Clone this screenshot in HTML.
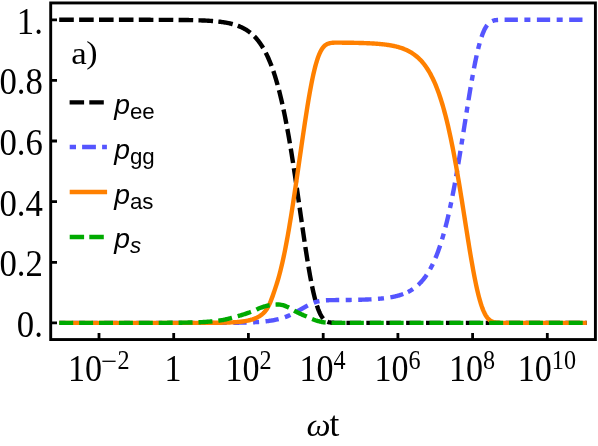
<!DOCTYPE html>
<html>
<head>
<meta charset="utf-8">
<title>Populations vs ωt</title>
<style>
  html, body { margin: 0; padding: 0; background: #ffffff; }
  body { width: 598px; height: 446px; overflow: hidden; }
  svg { display: block; will-change: transform; }
  .txt { filter: grayscale(1); }
  .serif { font-family: "Liberation Serif", serif; }
  .sans  { font-family: "Liberation Sans", sans-serif; }
</style>
</head>
<body>
<svg width="598" height="446" viewBox="0 0 598 446">
  <rect x="0" y="0" width="598" height="446" fill="#ffffff"/>

  <!-- curves -->
  <g fill="none" stroke-width="4.4" stroke-linejoin="round">
    <polyline id="c-ee" stroke="#000000" stroke-dasharray="14.6 5.3" points="59.20,19.80 59.86,19.80 60.52,19.80 61.18,19.80 61.84,19.80 62.50,19.80 63.16,19.80 63.82,19.80 64.48,19.80 65.14,19.80 65.80,19.80 66.46,19.80 67.12,19.80 67.78,19.80 68.44,19.80 69.10,19.80 69.76,19.80 70.42,19.80 71.08,19.80 71.74,19.80 72.40,19.80 73.06,19.80 73.72,19.80 74.38,19.80 75.04,19.80 75.71,19.80 76.37,19.80 77.03,19.80 77.69,19.80 78.35,19.80 79.01,19.80 79.67,19.80 80.33,19.80 80.99,19.80 81.65,19.80 82.31,19.80 82.97,19.80 83.63,19.80 84.29,19.80 84.95,19.80 85.61,19.80 86.27,19.80 86.93,19.80 87.59,19.80 88.25,19.80 88.91,19.80 89.57,19.80 90.23,19.80 90.89,19.80 91.55,19.80 92.21,19.80 92.87,19.80 93.53,19.80 94.19,19.80 94.85,19.80 95.51,19.80 96.17,19.80 96.83,19.80 97.49,19.80 98.15,19.80 98.81,19.80 99.47,19.80 100.13,19.80 100.79,19.80 101.45,19.80 102.11,19.80 102.77,19.80 103.43,19.80 104.09,19.80 104.75,19.80 105.41,19.80 106.07,19.80 106.73,19.80 107.39,19.80 108.05,19.80 108.72,19.80 109.38,19.80 110.04,19.80 110.70,19.80 111.36,19.80 112.02,19.80 112.68,19.80 113.34,19.80 114.00,19.80 114.66,19.80 115.32,19.80 115.98,19.80 116.64,19.80 117.30,19.80 117.96,19.80 118.62,19.80 119.28,19.80 119.94,19.80 120.60,19.80 121.26,19.80 121.92,19.80 122.58,19.80 123.24,19.80 123.90,19.80 124.56,19.80 125.22,19.81 125.88,19.81 126.54,19.81 127.20,19.81 127.86,19.81 128.52,19.81 129.18,19.81 129.84,19.81 130.50,19.81 131.16,19.81 131.82,19.81 132.48,19.81 133.14,19.81 133.80,19.81 134.46,19.81 135.12,19.81 135.78,19.81 136.44,19.81 137.10,19.81 137.76,19.81 138.42,19.81 139.08,19.81 139.74,19.81 140.40,19.81 141.06,19.81 141.73,19.81 142.39,19.82 143.05,19.82 143.71,19.82 144.37,19.82 145.03,19.82 145.69,19.82 146.35,19.82 147.01,19.82 147.67,19.82 148.33,19.82 148.99,19.82 149.65,19.82 150.31,19.82 150.97,19.83 151.63,19.83 152.29,19.83 152.95,19.83 153.61,19.83 154.27,19.83 154.93,19.83 155.59,19.83 156.25,19.84 156.91,19.84 157.57,19.84 158.23,19.84 158.89,19.84 159.55,19.84 160.21,19.85 160.87,19.85 161.53,19.85 162.19,19.85 162.85,19.85 163.51,19.86 164.17,19.86 164.83,19.86 165.49,19.86 166.15,19.87 166.81,19.87 167.47,19.87 168.13,19.88 168.79,19.88 169.45,19.88 170.11,19.89 170.77,19.89 171.43,19.89 172.09,19.90 172.75,19.90 173.41,19.91 174.07,19.91 174.74,19.91 175.40,19.92 176.06,19.92 176.72,19.93 177.38,19.94 178.04,19.94 178.70,19.95 179.36,19.95 180.02,19.96 180.68,19.97 181.34,19.97 182.00,19.98 182.66,19.99 183.32,20.00 183.98,20.00 184.64,20.01 185.30,20.02 185.96,20.03 186.62,20.04 187.28,20.05 187.94,20.06 188.60,20.07 189.26,20.09 189.92,20.10 190.58,20.11 191.24,20.12 191.90,20.14 192.56,20.15 193.22,20.17 193.88,20.18 194.54,20.20 195.20,20.21 195.86,20.23 196.52,20.25 197.18,20.27 197.84,20.29 198.50,20.31 199.16,20.33 199.82,20.35 200.48,20.38 201.14,20.40 201.80,20.43 202.46,20.45 203.12,20.48 203.78,20.51 204.44,20.54 205.10,20.57 205.76,20.60 206.42,20.64 207.08,20.67 207.75,20.71 208.41,20.75 209.07,20.79 209.73,20.83 210.39,20.87 211.05,20.92 211.71,20.97 212.37,21.02 213.03,21.07 213.69,21.12 214.35,21.18 215.01,21.24 215.67,21.30 216.33,21.36 216.99,21.43 217.65,21.49 218.31,21.57 218.97,21.64 219.63,21.72 220.29,21.80 220.95,21.88 221.61,21.97 222.27,22.06 222.93,22.16 223.59,22.26 224.25,22.36 224.91,22.47 225.57,22.58 226.23,22.70 226.89,22.82 227.55,22.95 228.21,23.08 228.87,23.22 229.53,23.36 230.19,23.51 230.85,23.67 231.51,23.83 232.17,24.00 232.83,24.18 233.49,24.36 234.15,24.55 234.81,24.75 235.47,24.96 236.13,25.18 236.79,25.40 237.45,25.64 238.11,25.88 238.77,26.14 239.43,26.40 240.09,26.68 240.76,26.97 241.42,27.27 242.08,27.58 242.74,27.90 243.40,28.24 244.06,28.59 244.72,28.96 245.38,29.34 246.04,29.74 246.70,30.15 247.36,30.58 248.02,31.03 248.68,31.50 249.34,31.98 250.00,32.49 250.66,33.01 251.32,33.56 251.98,34.13 252.64,34.72 253.30,35.33 253.96,35.97 254.62,36.64 255.28,37.33 255.94,38.05 256.60,38.80 257.26,39.58 257.92,40.38 258.58,41.22 259.24,42.10 259.90,43.00 260.56,43.95 261.22,44.92 261.88,45.94 262.54,47.00 263.20,48.09 263.86,49.23 264.52,50.41 265.18,51.64 265.84,52.91 266.50,54.23 267.16,55.60 267.82,57.02 268.48,58.49 269.14,60.01 269.80,61.59 270.46,63.23 271.12,64.92 271.78,66.67 272.44,68.49 273.10,70.37 273.77,72.31 274.43,74.33 275.09,76.40 275.75,78.55 276.41,80.77 277.07,83.06 277.73,85.43 278.39,87.87 279.05,90.39 279.71,92.98 280.37,95.66 281.03,98.41 281.69,101.25 282.35,104.16 283.01,107.16 283.67,110.25 284.33,113.41 284.99,116.67 285.65,120.00 286.31,123.42 286.97,126.92 287.63,130.51 288.29,134.17 288.95,137.92 289.61,141.75 290.27,145.65 290.93,149.64 291.59,153.69 292.25,157.82 292.91,162.01 293.57,166.27 294.23,170.58 294.89,174.96 295.55,179.38 296.21,183.85 296.87,188.37 297.53,192.91 298.19,197.49 298.85,202.09 299.51,206.70 300.17,211.33 300.83,215.95 301.49,220.56 302.15,225.16 302.81,229.74 303.47,234.28 304.13,238.77 304.79,243.22 305.45,247.60 306.11,251.91 306.78,256.14 307.44,260.28 308.10,264.33 308.76,268.27 309.42,272.09 310.08,275.79 310.74,279.36 311.40,282.79 312.06,286.09 312.72,289.23 313.38,292.22 314.04,295.06 314.70,297.73 315.36,300.25 316.02,302.61 316.68,304.80 317.34,306.84 318.00,308.72 318.66,310.44 319.32,312.01 319.98,313.44 320.64,314.74 321.30,315.89 321.96,316.93 322.62,317.84 323.28,318.65 323.94,319.35 324.60,319.96 325.26,320.48 325.92,320.93 326.58,321.31 327.24,321.63 327.90,321.89 328.56,322.11 329.22,322.28 329.88,322.43 330.54,322.54 331.20,322.63 331.86,322.70 332.52,322.75 333.18,322.79 333.84,322.82 334.50,322.85 335.16,322.86 335.82,322.87 336.48,322.88 337.14,322.89 337.80,322.89 338.46,322.90 339.12,322.90 339.79,322.90 340.45,322.90 341.11,322.90 341.77,322.90 342.43,322.90 343.09,322.90 343.75,322.90 344.41,322.90"/>
    <polyline id="c-ee2" stroke="#000000" stroke-dasharray="14.6 5.3" stroke-dashoffset="17.87" points="344.41,322.90 345.07,322.90 345.73,322.90 346.39,322.90 347.05,322.90 347.71,322.90 348.37,322.90 349.03,322.90 349.69,322.90 350.35,322.90 351.01,322.90 351.67,322.90 352.33,322.90 352.99,322.90 353.65,322.90 354.31,322.90 354.97,322.90 355.63,322.90 356.29,322.90 356.95,322.90 357.61,322.90 358.27,322.90 358.93,322.90 359.59,322.90 360.25,322.90 360.91,322.90 361.57,322.90 362.23,322.90 362.89,322.90 363.55,322.90 364.21,322.90 364.87,322.90 365.53,322.90 366.19,322.90 366.85,322.90 367.51,322.90 368.17,322.90 368.83,322.90 369.49,322.90 370.15,322.90 370.81,322.90 371.47,322.90 372.13,322.90 372.80,322.90 373.46,322.90 374.12,322.90 374.78,322.90 375.44,322.90 376.10,322.90 376.76,322.90 377.42,322.90 378.08,322.90 378.74,322.90 379.40,322.90 380.06,322.90 380.72,322.90 381.38,322.90 382.04,322.90 382.70,322.90 383.36,322.90 384.02,322.90 384.68,322.90 385.34,322.90 386.00,322.90 386.66,322.90 387.32,322.90 387.98,322.90 388.64,322.90 389.30,322.90 389.96,322.90 390.62,322.90 391.28,322.90 391.94,322.90 392.60,322.90 393.26,322.90 393.92,322.90 394.58,322.90 395.24,322.90 395.90,322.90 396.56,322.90 397.22,322.90 397.88,322.90 398.54,322.90 399.20,322.90 399.86,322.90 400.52,322.90 401.18,322.90 401.84,322.90 402.50,322.90 403.16,322.90 403.82,322.90 404.48,322.90 405.14,322.90 405.81,322.90 406.47,322.90 407.13,322.90 407.79,322.90 408.45,322.90 409.11,322.90 409.77,322.90 410.43,322.90 411.09,322.90 411.75,322.90 412.41,322.90 413.07,322.90 413.73,322.90 414.39,322.90 415.05,322.90 415.71,322.90 416.37,322.90 417.03,322.90 417.69,322.90 418.35,322.90 419.01,322.90 419.67,322.90 420.33,322.90 420.99,322.90 421.65,322.90 422.31,322.90 422.97,322.90 423.63,322.90 424.29,322.90 424.95,322.90 425.61,322.90 426.27,322.90 426.93,322.90 427.59,322.90 428.25,322.90 428.91,322.90 429.57,322.90 430.23,322.90 430.89,322.90 431.55,322.90 432.21,322.90 432.87,322.90 433.53,322.90 434.19,322.90 434.85,322.90 435.51,322.90 436.17,322.90 436.83,322.90 437.49,322.90 438.15,322.90 438.82,322.90 439.48,322.90 440.14,322.90 440.80,322.90 441.46,322.90 442.12,322.90 442.78,322.90 443.44,322.90 444.10,322.90 444.76,322.90 445.42,322.90 446.08,322.90 446.74,322.90 447.40,322.90 448.06,322.90 448.72,322.90 449.38,322.90 450.04,322.90 450.70,322.90 451.36,322.90 452.02,322.90 452.68,322.90 453.34,322.90 454.00,322.90 454.66,322.90 455.32,322.90 455.98,322.90 456.64,322.90 457.30,322.90 457.96,322.90 458.62,322.90 459.28,322.90 459.94,322.90 460.60,322.90 461.26,322.90 461.92,322.90 462.58,322.90 463.24,322.90 463.90,322.90 464.56,322.90 465.22,322.90 465.88,322.90 466.54,322.90 467.20,322.90 467.86,322.90 468.52,322.90 469.18,322.90 469.84,322.90 470.50,322.90 471.16,322.90 471.83,322.90 472.49,322.90 473.15,322.90 473.81,322.90 474.47,322.90 475.13,322.90 475.79,322.90 476.45,322.90 477.11,322.90 477.77,322.90 478.43,322.90 479.09,322.90 479.75,322.90 480.41,322.90 481.07,322.90 481.73,322.90 482.39,322.90 483.05,322.90 483.71,322.90 484.37,322.90 485.03,322.90 485.69,322.90 486.35,322.90 487.01,322.90 487.67,322.90 488.33,322.90 488.99,322.90 489.65,322.90 490.31,322.90 490.97,322.90 491.63,322.90 492.29,322.90 492.95,322.90 493.61,322.90 494.27,322.90 494.93,322.90 495.59,322.90 496.25,322.90 496.91,322.90 497.57,322.90 498.23,322.90 498.89,322.90 499.55,322.90 500.21,322.90 500.87,322.90 501.53,322.90 502.19,322.90 502.85,322.90 503.51,322.90 504.17,322.90 504.84,322.90 505.50,322.90 506.16,322.90 506.82,322.90 507.48,322.90 508.14,322.90 508.80,322.90 509.46,322.90 510.12,322.90 510.78,322.90 511.44,322.90 512.10,322.90 512.76,322.90 513.42,322.90 514.08,322.90 514.74,322.90 515.40,322.90 516.06,322.90 516.72,322.90 517.38,322.90 518.04,322.90 518.70,322.90 519.36,322.90 520.02,322.90 520.68,322.90 521.34,322.90 522.00,322.90 522.66,322.90 523.32,322.90 523.98,322.90 524.64,322.90 525.30,322.90 525.96,322.90 526.62,322.90 527.28,322.90 527.94,322.90 528.60,322.90 529.26,322.90 529.92,322.90 530.58,322.90 531.24,322.90 531.90,322.90 532.56,322.90 533.22,322.90 533.88,322.90 534.54,322.90 535.20,322.90 535.86,322.90 536.52,322.90 537.18,322.90 537.85,322.90 538.51,322.90 539.17,322.90 539.83,322.90 540.49,322.90 541.15,322.90 541.81,322.90 542.47,322.90 543.13,322.90 543.79,322.90 544.45,322.90 545.11,322.90 545.77,322.90 546.43,322.90 547.09,322.90 547.75,322.90 548.41,322.90 549.07,322.90 549.73,322.90 550.39,322.90 551.05,322.90 551.71,322.90 552.37,322.90 553.03,322.90 553.69,322.90 554.35,322.90 555.01,322.90 555.67,322.90 556.33,322.90 556.99,322.90 557.65,322.90 558.31,322.90 558.97,322.90 559.63,322.90 560.29,322.90 560.95,322.90 561.61,322.90 562.27,322.90 562.93,322.90 563.59,322.90 564.25,322.90 564.91,322.90 565.57,322.90 566.23,322.90 566.89,322.90 567.55,322.90 568.21,322.90 568.87,322.90 569.53,322.90 570.19,322.90 570.86,322.90 571.52,322.90 572.18,322.90 572.84,322.90 573.50,322.90 574.16,322.90 574.82,322.90 575.48,322.90 576.14,322.90 576.80,322.90 577.46,322.90 578.12,322.90 578.78,322.90 579.44,322.90 580.10,322.90 580.76,322.90 581.42,322.90 582.08,322.90 582.74,322.90 583.40,322.90 584.06,322.90 584.72,322.90 585.38,322.90 586.04,322.90 586.70,322.90"/>
    <polyline id="c-gg" stroke="#5555ff" stroke-dasharray="13.3 6.5 6 6.5" stroke-dashoffset="19.7" points="59.20,322.90 59.86,322.90 60.52,322.90 61.18,322.90 61.84,322.90 62.50,322.90 63.16,322.90 63.82,322.90 64.48,322.90 65.14,322.90 65.80,322.90 66.46,322.90 67.12,322.90 67.78,322.90 68.44,322.90 69.10,322.90 69.76,322.90 70.42,322.90 71.08,322.90 71.74,322.90 72.40,322.90 73.06,322.90 73.72,322.90 74.38,322.90 75.04,322.90 75.71,322.90 76.37,322.90 77.03,322.90 77.69,322.90 78.35,322.90 79.01,322.90 79.67,322.90 80.33,322.90 80.99,322.90 81.65,322.90 82.31,322.90 82.97,322.90 83.63,322.90 84.29,322.90 84.95,322.90 85.61,322.90 86.27,322.90 86.93,322.90 87.59,322.90 88.25,322.90 88.91,322.90 89.57,322.90 90.23,322.90 90.89,322.90 91.55,322.90 92.21,322.90 92.87,322.90 93.53,322.90 94.19,322.90 94.85,322.90 95.51,322.90 96.17,322.90 96.83,322.90 97.49,322.90 98.15,322.90 98.81,322.90 99.47,322.90 100.13,322.90 100.79,322.90 101.45,322.90 102.11,322.90 102.77,322.90 103.43,322.90 104.09,322.90 104.75,322.90 105.41,322.90 106.07,322.90 106.73,322.90 107.39,322.90 108.05,322.90 108.72,322.90 109.38,322.90 110.04,322.90 110.70,322.90 111.36,322.90 112.02,322.90 112.68,322.90 113.34,322.90 114.00,322.90 114.66,322.90 115.32,322.90 115.98,322.90 116.64,322.90 117.30,322.90 117.96,322.90 118.62,322.90 119.28,322.90 119.94,322.90 120.60,322.90 121.26,322.90 121.92,322.90 122.58,322.90 123.24,322.90 123.90,322.90 124.56,322.90 125.22,322.90 125.88,322.90 126.54,322.90 127.20,322.90 127.86,322.90 128.52,322.90 129.18,322.90 129.84,322.90 130.50,322.90 131.16,322.90 131.82,322.90 132.48,322.90 133.14,322.90 133.80,322.90 134.46,322.90 135.12,322.90 135.78,322.90 136.44,322.90 137.10,322.90 137.76,322.90 138.42,322.90 139.08,322.90 139.74,322.90 140.40,322.90 141.06,322.90 141.73,322.90 142.39,322.90 143.05,322.90 143.71,322.90 144.37,322.90 145.03,322.90 145.69,322.90 146.35,322.90 147.01,322.90 147.67,322.90 148.33,322.90 148.99,322.90 149.65,322.90 150.31,322.90 150.97,322.90 151.63,322.90 152.29,322.90 152.95,322.90 153.61,322.90 154.27,322.90 154.93,322.90 155.59,322.90 156.25,322.90 156.91,322.90 157.57,322.90 158.23,322.90 158.89,322.90 159.55,322.90 160.21,322.90 160.87,322.90 161.53,322.90 162.19,322.90 162.85,322.90 163.51,322.90 164.17,322.90 164.83,322.90 165.49,322.90 166.15,322.90 166.81,322.90 167.47,322.90 168.13,322.90 168.79,322.90 169.45,322.90 170.11,322.90 170.77,322.90 171.43,322.90 172.09,322.90 172.75,322.90 173.41,322.90 174.07,322.90 174.74,322.90 175.40,322.90 176.06,322.90 176.72,322.90 177.38,322.90 178.04,322.90 178.70,322.90 179.36,322.90 180.02,322.90 180.68,322.90 181.34,322.90 182.00,322.90 182.66,322.90 183.32,322.90 183.98,322.90 184.64,322.90 185.30,322.90 185.96,322.90 186.62,322.90 187.28,322.90 187.94,322.90 188.60,322.89 189.26,322.89 189.92,322.89 190.58,322.89 191.24,322.89 191.90,322.89 192.56,322.89 193.22,322.89 193.88,322.89 194.54,322.89 195.20,322.89 195.86,322.89 196.52,322.89 197.18,322.89 197.84,322.89 198.50,322.89 199.16,322.89 199.82,322.89 200.48,322.89 201.14,322.89 201.80,322.89 202.46,322.89 203.12,322.88 203.78,322.88 204.44,322.88 205.10,322.88 205.76,322.88 206.42,322.88 207.08,322.88 207.75,322.88 208.41,322.88 209.07,322.88 209.73,322.88 210.39,322.87 211.05,322.87 211.71,322.87 212.37,322.87 213.03,322.87 213.69,322.87 214.35,322.86 215.01,322.86 215.67,322.86 216.33,322.86 216.99,322.86 217.65,322.85 218.31,322.85 218.97,322.85 219.63,322.85 220.29,322.85 220.95,322.84 221.61,322.84 222.27,322.84 222.93,322.83 223.59,322.83 224.25,322.83 224.91,322.82 225.57,322.82 226.23,322.81 226.89,322.81 227.55,322.81 228.21,322.80 228.87,322.80 229.53,322.79 230.19,322.78 230.85,322.78 231.51,322.77 232.17,322.77 232.83,322.76 233.49,322.75 234.15,322.74 234.81,322.74 235.47,322.73 236.13,322.72 236.79,322.71 237.45,322.70 238.11,322.69 238.77,322.68 239.43,322.67 240.09,322.66 240.76,322.65 241.42,322.63 242.08,322.62 242.74,322.61 243.40,322.59 244.06,322.57 244.72,322.56 245.38,322.54 246.04,322.52 246.70,322.50 247.36,322.48 248.02,322.46 248.68,322.44 249.34,322.42 250.00,322.40 250.66,322.37 251.32,322.34 251.98,322.32 252.64,322.29 253.30,322.26 253.96,322.22 254.62,322.19 255.28,322.16 255.94,322.12 256.60,322.08 257.26,322.04 257.92,322.00 258.58,321.95 259.24,321.91 259.90,321.86 260.56,321.81 261.22,321.75 261.88,321.70 262.54,321.64 263.20,321.58 263.86,321.51 264.52,321.45 265.18,321.38 265.84,321.30 266.50,321.23 267.16,321.15 267.82,321.06 268.48,320.98 269.14,320.88 269.80,320.79 270.46,320.69 271.12,320.59 271.78,320.48 272.44,320.36 273.10,320.25 273.77,320.12 274.43,320.00 275.09,319.86 275.75,319.72 276.41,319.58 277.07,319.43 277.73,319.27 278.39,319.11 279.05,318.94 279.71,318.77 280.37,318.58 281.03,318.40 281.69,318.20 282.35,318.00 283.01,317.79 283.67,317.57 284.33,317.35 284.99,317.11 285.65,316.87 286.31,316.63 286.97,316.37 287.63,316.11 288.29,315.84 288.95,315.56 289.61,315.27 290.27,314.98 290.93,314.67 291.59,314.37 292.25,314.05 292.91,313.73 293.57,313.40 294.23,313.06 294.89,312.71 295.55,312.36 296.21,312.01 296.87,311.65 297.53,311.28 298.19,310.91 298.85,310.54 299.51,310.16 300.17,309.78 300.83,309.40 301.49,309.02 302.15,308.64 302.81,308.26 303.47,307.88 304.13,307.50 304.79,307.12 305.45,306.75 306.11,306.38 306.78,306.02 307.44,305.66 308.10,305.31 308.76,304.97 309.42,304.64 310.08,304.32 310.74,304.01 311.40,303.71 312.06,303.42 312.72,303.14 313.38,302.88 314.04,302.62 314.70,302.39 315.36,302.16 316.02,301.95 316.68,301.76 317.34,301.57 318.00,301.41 318.66,301.25 319.32,301.11 319.98,300.98 320.64,300.86 321.30,300.76 321.96,300.66 322.62,300.58 323.28,300.50 323.94,300.44 324.60,300.38 325.26,300.33 325.92,300.29 326.58,300.26 327.24,300.22 327.90,300.20 328.56,300.18 329.22,300.16 329.88,300.14 330.54,300.13 331.20,300.12 331.86,300.11 332.52,300.10 333.18,300.09 333.84,300.09 334.50,300.08 335.16,300.08 335.82,300.07 336.48,300.07 337.14,300.06 337.80,300.06 338.46,300.05 339.12,300.05 339.79,300.04 340.45,300.04 341.11,300.03 341.77,300.03 342.43,300.02 343.09,300.02 343.75,300.01 344.41,300.00 345.07,300.00 345.73,299.99 346.39,299.98 347.05,299.97 347.71,299.97 348.37,299.96 349.03,299.95 349.69,299.94 350.35,299.93 351.01,299.92 351.67,299.91 352.33,299.90 352.99,299.89 353.65,299.88 354.31,299.86 354.97,299.85 355.63,299.84 356.29,299.82 356.95,299.81 357.61,299.79 358.27,299.78 358.93,299.76 359.59,299.75 360.25,299.73 360.91,299.71 361.57,299.69 362.23,299.67 362.89,299.65 363.55,299.63 364.21,299.61 364.87,299.58 365.53,299.56 366.19,299.53 366.85,299.51 367.51,299.48 368.17,299.45 368.83,299.42 369.49,299.39 370.15,299.36 370.81,299.33 371.47,299.29 372.13,299.25 372.80,299.22 373.46,299.18 374.12,299.14 374.78,299.09 375.44,299.05 376.10,299.00 376.76,298.95 377.42,298.90 378.08,298.85 378.74,298.80 379.40,298.74 380.06,298.68 380.72,298.62 381.38,298.55 382.04,298.49 382.70,298.42 383.36,298.35 384.02,298.27 384.68,298.19 385.34,298.11 386.00,298.02 386.66,297.94 387.32,297.84 387.98,297.75 388.64,297.65 389.30,297.54 389.96,297.43 390.62,297.32 391.28,297.20 391.94,297.08 392.60,296.95 393.26,296.82 393.92,296.68 394.58,296.54 395.24,296.39 395.90,296.23 396.56,296.07 397.22,295.90 397.88,295.72 398.54,295.54 399.20,295.35 399.86,295.15 400.52,294.94 401.18,294.73 401.84,294.50 402.50,294.27 403.16,294.03 403.82,293.78 404.48,293.51 405.14,293.24 405.81,292.96"/>
    <polyline id="c-gg2" stroke="#5555ff" stroke-dasharray="13.3 6.5 6 6.5" stroke-dashoffset="17.56" points="405.81,292.96 406.47,292.66 407.13,292.35 407.79,292.03 408.45,291.70 409.11,291.35 409.77,290.99 410.43,290.62 411.09,290.23 411.75,289.82 412.41,289.40 413.07,288.96 413.73,288.50 414.39,288.03 415.05,287.54 415.71,287.02 416.37,286.49 417.03,285.93 417.69,285.36 418.35,284.76 419.01,284.14 419.67,283.49 420.33,282.82 420.99,282.12 421.65,281.40 422.31,280.64 422.97,279.86 423.63,279.05 424.29,278.21 424.95,277.33 425.61,276.42 426.27,275.48 426.93,274.50 427.59,273.49 428.25,272.43 428.91,271.34 429.57,270.21 430.23,269.03 430.89,267.82 431.55,266.55 432.21,265.25 432.87,263.89 433.53,262.49 434.19,261.04 434.85,259.53 435.51,257.98 436.17,256.37 436.83,254.70 437.49,252.98 438.15,251.20 438.82,249.36 439.48,247.46 440.14,245.49 440.80,243.46 441.46,241.37 442.12,239.21 442.78,236.99 443.44,234.69 444.10,232.33 444.76,229.89 445.42,227.39 446.08,224.81 446.74,222.16 447.40,219.43 448.06,216.63 448.72,213.75 449.38,210.80 450.04,207.78 450.70,204.68 451.36,201.50 452.02,198.25 452.68,194.93 453.34,191.54 454.00,188.07 454.66,184.54 455.32,180.93 455.98,177.26 456.64,173.53 457.30,169.73 457.96,165.88 458.62,161.97 459.28,158.01 459.94,154.00 460.60,149.95 461.26,145.86 461.92,141.74 462.58,137.59 463.24,133.42 463.90,129.23 464.56,125.03 465.22,120.83 465.88,116.63 466.54,112.44 467.20,108.27 467.86,104.12 468.52,100.01 469.18,95.94 469.84,91.92 470.50,87.96 471.16,84.07 471.83,80.25 472.49,76.51 473.15,72.86 473.81,69.31 474.47,65.87 475.13,62.54 475.79,59.32 476.45,56.23 477.11,53.26 477.77,50.43 478.43,47.73 479.09,45.18 479.75,42.77 480.41,40.50 481.07,38.37 481.73,36.39 482.39,34.55 483.05,32.85 483.71,31.28 484.37,29.85 485.03,28.55 485.69,27.38 486.35,26.32 487.01,25.38 487.67,24.54 488.33,23.80 488.99,23.15 489.65,22.59 490.31,22.10 490.97,21.68 491.63,21.33 492.29,21.03 492.95,20.78 493.61,20.58 494.27,20.41 494.93,20.27 495.59,20.16 496.25,20.07 496.91,20.01 497.57,19.95 498.23,19.91 498.89,19.88 499.55,19.86 500.21,19.84 500.87,19.83 501.53,19.82 502.19,19.81 502.85,19.81 503.51,19.81 504.17,19.80 504.84,19.80 505.50,19.80 506.16,19.80 506.82,19.80 507.48,19.80 508.14,19.80 508.80,19.80 509.46,19.80 510.12,19.80 510.78,19.80 511.44,19.80 512.10,19.80 512.76,19.80 513.42,19.80 514.08,19.80 514.74,19.80 515.40,19.80 516.06,19.80 516.72,19.80 517.38,19.80 518.04,19.80 518.70,19.80 519.36,19.80 520.02,19.80 520.68,19.80 521.34,19.80 522.00,19.80 522.66,19.80 523.32,19.80 523.98,19.80 524.64,19.80 525.30,19.80 525.96,19.80 526.62,19.80 527.28,19.80 527.94,19.80 528.60,19.80 529.26,19.80 529.92,19.80 530.58,19.80 531.24,19.80 531.90,19.80 532.56,19.80 533.22,19.80 533.88,19.80 534.54,19.80 535.20,19.80 535.86,19.80 536.52,19.80 537.18,19.80 537.85,19.80 538.51,19.80 539.17,19.80 539.83,19.80 540.49,19.80 541.15,19.80 541.81,19.80 542.47,19.80 543.13,19.80 543.79,19.80 544.45,19.80 545.11,19.80 545.77,19.80 546.43,19.80 547.09,19.80 547.75,19.80 548.41,19.80 549.07,19.80 549.73,19.80 550.39,19.80 551.05,19.80 551.71,19.80 552.37,19.80 553.03,19.80 553.69,19.80 554.35,19.80 555.01,19.80 555.67,19.80 556.33,19.80 556.99,19.80 557.65,19.80 558.31,19.80 558.97,19.80 559.63,19.80 560.29,19.80 560.95,19.80 561.61,19.80 562.27,19.80 562.93,19.80 563.59,19.80 564.25,19.80 564.91,19.80 565.57,19.80 566.23,19.80 566.89,19.80 567.55,19.80 568.21,19.80 568.87,19.80 569.53,19.80 570.19,19.80 570.86,19.80 571.52,19.80 572.18,19.80 572.84,19.80 573.50,19.80 574.16,19.80 574.82,19.80 575.48,19.80 576.14,19.80 576.80,19.80 577.46,19.80 578.12,19.80 578.78,19.80 579.44,19.80 580.10,19.80 580.76,19.80 581.42,19.80 582.08,19.80 582.74,19.80 583.40,19.80 584.06,19.80 584.72,19.80 585.38,19.80 586.04,19.80 586.70,19.80"/>
    <polyline id="c-as" stroke="#ff8000" points="59.20,322.90 59.86,322.90 60.52,322.90 61.18,322.90 61.84,322.90 62.50,322.90 63.16,322.90 63.82,322.90 64.48,322.90 65.14,322.90 65.80,322.90 66.46,322.90 67.12,322.90 67.78,322.90 68.44,322.90 69.10,322.90 69.76,322.90 70.42,322.90 71.08,322.90 71.74,322.90 72.40,322.90 73.06,322.90 73.72,322.90 74.38,322.90 75.04,322.90 75.71,322.90 76.37,322.90 77.03,322.90 77.69,322.90 78.35,322.90 79.01,322.90 79.67,322.90 80.33,322.90 80.99,322.90 81.65,322.90 82.31,322.90 82.97,322.90 83.63,322.90 84.29,322.90 84.95,322.90 85.61,322.90 86.27,322.90 86.93,322.90 87.59,322.90 88.25,322.90 88.91,322.90 89.57,322.90 90.23,322.90 90.89,322.90 91.55,322.90 92.21,322.90 92.87,322.90 93.53,322.90 94.19,322.90 94.85,322.90 95.51,322.90 96.17,322.90 96.83,322.90 97.49,322.90 98.15,322.90 98.81,322.90 99.47,322.90 100.13,322.90 100.79,322.90 101.45,322.90 102.11,322.90 102.77,322.90 103.43,322.90 104.09,322.90 104.75,322.90 105.41,322.90 106.07,322.90 106.73,322.90 107.39,322.90 108.05,322.90 108.72,322.90 109.38,322.90 110.04,322.90 110.70,322.90 111.36,322.90 112.02,322.90 112.68,322.90 113.34,322.90 114.00,322.90 114.66,322.90 115.32,322.90 115.98,322.90 116.64,322.90 117.30,322.90 117.96,322.90 118.62,322.90 119.28,322.90 119.94,322.90 120.60,322.90 121.26,322.90 121.92,322.90 122.58,322.90 123.24,322.90 123.90,322.90 124.56,322.90 125.22,322.90 125.88,322.90 126.54,322.90 127.20,322.90 127.86,322.90 128.52,322.90 129.18,322.90 129.84,322.90 130.50,322.90 131.16,322.90 131.82,322.90 132.48,322.90 133.14,322.90 133.80,322.90 134.46,322.90 135.12,322.90 135.78,322.90 136.44,322.90 137.10,322.90 137.76,322.90 138.42,322.90 139.08,322.90 139.74,322.90 140.40,322.90 141.06,322.90 141.73,322.90 142.39,322.90 143.05,322.90 143.71,322.90 144.37,322.90 145.03,322.90 145.69,322.90 146.35,322.90 147.01,322.90 147.67,322.90 148.33,322.90 148.99,322.90 149.65,322.90 150.31,322.90 150.97,322.90 151.63,322.90 152.29,322.90 152.95,322.90 153.61,322.90 154.27,322.90 154.93,322.90 155.59,322.90 156.25,322.90 156.91,322.90 157.57,322.90 158.23,322.90 158.89,322.90 159.55,322.90 160.21,322.90 160.87,322.90 161.53,322.90 162.19,322.90 162.85,322.90 163.51,322.90 164.17,322.90 164.83,322.90 165.49,322.90 166.15,322.90 166.81,322.90 167.47,322.90 168.13,322.90 168.79,322.90 169.45,322.90 170.11,322.90 170.77,322.90 171.43,322.90 172.09,322.90 172.75,322.90 173.41,322.90 174.07,322.90 174.74,322.90 175.40,322.90 176.06,322.90 176.72,322.90 177.38,322.90 178.04,322.90 178.70,322.90 179.36,322.90 180.02,322.90 180.68,322.90 181.34,322.90 182.00,322.89 182.66,322.89 183.32,322.89 183.98,322.89 184.64,322.89 185.30,322.89 185.96,322.89 186.62,322.89 187.28,322.89 187.94,322.89 188.60,322.89 189.26,322.89 189.92,322.89 190.58,322.89 191.24,322.89 191.90,322.89 192.56,322.89 193.22,322.89 193.88,322.88 194.54,322.88 195.20,322.88 195.86,322.88 196.52,322.88 197.18,322.88 197.84,322.88 198.50,322.88 199.16,322.87 199.82,322.87 200.48,322.87 201.14,322.87 201.80,322.87 202.46,322.87 203.12,322.86 203.78,322.86 204.44,322.86 205.10,322.86 205.76,322.85 206.42,322.85 207.08,322.85 207.75,322.84 208.41,322.84 209.07,322.84 209.73,322.83 210.39,322.83 211.05,322.82 211.71,322.82 212.37,322.81 213.03,322.81 213.69,322.80 214.35,322.80 215.01,322.79 215.67,322.78 216.33,322.78 216.99,322.77 217.65,322.76 218.31,322.75 218.97,322.74 219.63,322.73 220.29,322.72 220.95,322.71 221.61,322.70 222.27,322.68 222.93,322.67 223.59,322.66 224.25,322.64 224.91,322.62 225.57,322.61 226.23,322.59 226.89,322.57 227.55,322.55 228.21,322.53 228.87,322.50 229.53,322.48 230.19,322.45 230.85,322.42 231.51,322.39 232.17,322.36 232.83,322.33 233.49,322.29 234.15,322.25 234.81,322.21 235.47,322.17 236.13,322.12 236.79,322.07 237.45,322.02 238.11,321.96 238.77,321.91 239.43,321.84 240.09,321.78 240.76,321.71 241.42,321.63 242.08,321.55 242.74,321.46 243.40,321.37 244.06,321.28 244.72,321.18 245.38,321.07 246.04,320.95 246.70,320.83 247.36,320.70 248.02,320.56 248.68,320.41 249.34,320.25 250.00,320.09 250.66,319.91 251.32,319.72 251.98,319.52 252.64,319.31 253.30,319.08 253.96,318.84 254.62,318.59 255.28,318.31 255.94,318.03 256.60,317.72 257.26,317.39 257.92,317.04 258.58,316.67 259.24,316.28 259.90,315.87 260.56,315.42 261.22,314.95 261.88,314.45 262.54,313.91 263.20,313.34 263.86,312.71 264.52,312.02 265.18,311.25 265.84,310.41 266.50,309.48 267.16,308.45 267.82,307.32 268.48,306.08 269.14,304.74 269.80,303.30 270.46,301.76 271.12,300.13 271.78,298.41 272.44,296.62 273.10,294.76 273.77,292.84 274.43,290.88 275.09,288.88 275.75,286.87 276.41,284.85 277.07,282.75 277.73,280.59 278.39,278.34 279.05,275.99 279.71,273.53 280.37,270.96 281.03,268.29 281.69,265.54 282.35,262.70 283.01,259.77 283.67,256.73 284.33,253.58 284.99,250.32 285.65,246.97 286.31,243.52 286.97,239.99 287.63,236.37 288.29,232.67 288.95,228.87 289.61,224.96 290.27,220.96 290.93,216.88 291.59,212.73 292.25,208.51 292.91,204.25 293.57,199.94 294.23,195.59 294.89,191.20 295.55,186.76 296.21,182.28 296.87,177.77 297.53,173.23 298.19,168.66 298.85,164.09 299.51,159.50 300.17,154.92 300.83,150.34 301.49,145.78 302.15,141.25 302.81,136.73 303.47,132.26 304.13,127.82 304.79,123.42 305.45,119.08 306.11,114.80 306.78,110.59 307.44,106.45 308.10,102.39 308.76,98.43 309.42,94.59 310.08,90.86 310.74,87.28 311.40,83.83 312.06,80.52 312.72,77.35 313.38,74.32 314.04,71.44 314.70,68.72 315.36,66.16 316.02,63.76 316.68,61.52 317.34,59.44 318.00,57.53 318.66,55.77 319.32,54.14 319.98,52.66 320.64,51.31 321.30,50.09 321.96,49.00 322.62,48.03 323.28,47.18 323.94,46.44 324.60,45.81 325.26,45.27 325.92,44.81 326.58,44.41 327.24,44.07 327.90,43.79 328.56,43.55 329.22,43.35 329.88,43.18 330.54,43.05 331.20,42.94 331.86,42.85 332.52,42.78 333.18,42.73 333.84,42.70 334.50,42.67 335.16,42.66 335.82,42.65 336.48,42.65 337.14,42.65 337.80,42.65 338.46,42.65 339.12,42.65 339.79,42.66 340.45,42.66 341.11,42.67 341.77,42.67 342.43,42.68 343.09,42.68 343.75,42.69 344.41,42.70 345.07,42.70 345.73,42.71 346.39,42.72 347.05,42.73 347.71,42.73 348.37,42.74 349.03,42.75 349.69,42.76 350.35,42.77 351.01,42.78 351.67,42.79 352.33,42.80 352.99,42.81 353.65,42.82 354.31,42.84 354.97,42.85 355.63,42.86 356.29,42.88 356.95,42.89 357.61,42.91 358.27,42.92 358.93,42.94 359.59,42.95 360.25,42.97 360.91,42.99 361.57,43.01 362.23,43.03 362.89,43.05 363.55,43.07 364.21,43.09 364.87,43.12 365.53,43.14 366.19,43.17 366.85,43.19 367.51,43.22 368.17,43.25 368.83,43.28 369.49,43.31 370.15,43.34 370.81,43.37 371.47,43.41 372.13,43.45 372.80,43.48 373.46,43.52 374.12,43.56 374.78,43.61 375.44,43.65 376.10,43.70 376.76,43.75 377.42,43.80 378.08,43.85 378.74,43.90 379.40,43.96 380.06,44.02 380.72,44.08 381.38,44.15 382.04,44.21 382.70,44.28 383.36,44.35 384.02,44.43 384.68,44.51 385.34,44.59 386.00,44.68 386.66,44.76 387.32,44.86 387.98,44.95 388.64,45.05 389.30,45.16 389.96,45.27 390.62,45.38 391.28,45.50 391.94,45.62 392.60,45.75 393.26,45.88 393.92,46.02 394.58,46.16 395.24,46.31 395.90,46.47 396.56,46.63 397.22,46.80 397.88,46.98 398.54,47.16 399.20,47.35 399.86,47.55 400.52,47.76 401.18,47.97 401.84,48.20 402.50,48.43 403.16,48.67 403.82,48.92 404.48,49.19 405.14,49.46 405.81,49.74 406.47,50.04 407.13,50.35 407.79,50.67 408.45,51.00 409.11,51.35 409.77,51.71 410.43,52.08 411.09,52.47 411.75,52.88 412.41,53.30 413.07,53.74 413.73,54.20 414.39,54.67 415.05,55.16 415.71,55.68 416.37,56.21 417.03,56.77 417.69,57.34 418.35,57.94 419.01,58.56 419.67,59.21 420.33,59.88 420.99,60.58 421.65,61.30 422.31,62.06 422.97,62.84 423.63,63.65 424.29,64.49 424.95,65.37 425.61,66.28 426.27,67.22 426.93,68.20 427.59,69.21 428.25,70.27 428.91,71.36 429.57,72.49 430.23,73.67 430.89,74.88 431.55,76.15 432.21,77.45 432.87,78.81 433.53,80.21 434.19,81.66 434.85,83.17 435.51,84.72 436.17,86.33 436.83,88.00 437.49,89.72 438.15,91.50 438.82,93.34 439.48,95.24 440.14,97.21 440.80,99.24 441.46,101.33 442.12,103.49 442.78,105.71 443.44,108.01 444.10,110.37 444.76,112.81 445.42,115.31 446.08,117.89 446.74,120.54 447.40,123.27 448.06,126.07 448.72,128.95 449.38,131.90 450.04,134.92 450.70,138.02 451.36,141.20 452.02,144.45 452.68,147.77 453.34,151.16 454.00,154.63 454.66,158.16 455.32,161.77 455.98,165.44 456.64,169.17 457.30,172.97 457.96,176.82 458.62,180.73 459.28,184.69 459.94,188.70 460.60,192.75 461.26,196.84 461.92,200.96 462.58,205.11 463.24,209.28 463.90,213.47 464.56,217.67 465.22,221.87 465.88,226.07 466.54,230.26 467.20,234.43 467.86,238.58 468.52,242.69 469.18,246.76 469.84,250.78 470.50,254.74 471.16,258.63 471.83,262.45 472.49,266.19 473.15,269.84 473.81,273.39 474.47,276.83 475.13,280.16 475.79,283.38 476.45,286.47 477.11,289.44 477.77,292.27 478.43,294.97 479.09,297.52 479.75,299.93 480.41,302.20 481.07,304.33 481.73,306.31 482.39,308.15 483.05,309.85 483.71,311.42 484.37,312.85 485.03,314.15 485.69,315.32 486.35,316.38 487.01,317.32 487.67,318.16 488.33,318.90 488.99,319.55 489.65,320.11 490.31,320.60 490.97,321.02 491.63,321.37 492.29,321.67 492.95,321.92 493.61,322.12 494.27,322.29 494.93,322.43 495.59,322.54 496.25,322.63 496.91,322.69 497.57,322.75 498.23,322.79 498.89,322.82 499.55,322.84 500.21,322.86 500.87,322.87 501.53,322.88 502.19,322.89 502.85,322.89 503.51,322.89 504.17,322.90 504.84,322.90 505.50,322.90 506.16,322.90 506.82,322.90 507.48,322.90 508.14,322.90 508.80,322.90 509.46,322.90 510.12,322.90 510.78,322.90 511.44,322.90 512.10,322.90 512.76,322.90 513.42,322.90 514.08,322.90 514.74,322.90 515.40,322.90 516.06,322.90 516.72,322.90 517.38,322.90 518.04,322.90 518.70,322.90 519.36,322.90 520.02,322.90 520.68,322.90 521.34,322.90 522.00,322.90 522.66,322.90 523.32,322.90 523.98,322.90 524.64,322.90 525.30,322.90 525.96,322.90 526.62,322.90 527.28,322.90 527.94,322.90 528.60,322.90 529.26,322.90 529.92,322.90 530.58,322.90 531.24,322.90 531.90,322.90 532.56,322.90 533.22,322.90 533.88,322.90 534.54,322.90 535.20,322.90 535.86,322.90 536.52,322.90 537.18,322.90 537.85,322.90 538.51,322.90 539.17,322.90 539.83,322.90 540.49,322.90 541.15,322.90 541.81,322.90 542.47,322.90 543.13,322.90 543.79,322.90 544.45,322.90 545.11,322.90 545.77,322.90 546.43,322.90 547.09,322.90 547.75,322.90 548.41,322.90 549.07,322.90 549.73,322.90 550.39,322.90 551.05,322.90 551.71,322.90 552.37,322.90 553.03,322.90 553.69,322.90 554.35,322.90 555.01,322.90 555.67,322.90 556.33,322.90 556.99,322.90 557.65,322.90 558.31,322.90 558.97,322.90 559.63,322.90 560.29,322.90 560.95,322.90 561.61,322.90 562.27,322.90 562.93,322.90 563.59,322.90 564.25,322.90 564.91,322.90 565.57,322.90 566.23,322.90 566.89,322.90 567.55,322.90 568.21,322.90 568.87,322.90 569.53,322.90 570.19,322.90 570.86,322.90 571.52,322.90 572.18,322.90 572.84,322.90 573.50,322.90 574.16,322.90 574.82,322.90 575.48,322.90 576.14,322.90 576.80,322.90 577.46,322.90 578.12,322.90 578.78,322.90 579.44,322.90 580.10,322.90 580.76,322.90 581.42,322.90 582.08,322.90 582.74,322.90 583.40,322.90 584.06,322.90 584.72,322.90 585.38,322.90 586.04,322.90 586.70,322.90"/>
    <polyline id="c-s"  stroke="#00aa00" stroke-dasharray="14 5.9" stroke-dashoffset="0" points="59.20,322.90 59.86,322.90 60.52,322.90 61.18,322.90 61.84,322.90 62.50,322.90 63.16,322.90 63.82,322.90 64.48,322.90 65.14,322.90 65.80,322.90 66.46,322.90 67.12,322.90 67.78,322.90 68.44,322.90 69.10,322.90 69.76,322.90 70.42,322.90 71.08,322.90 71.74,322.90 72.40,322.90 73.06,322.90 73.72,322.90 74.38,322.90 75.04,322.90 75.71,322.90 76.37,322.90 77.03,322.90 77.69,322.90 78.35,322.90 79.01,322.90 79.67,322.90 80.33,322.90 80.99,322.90 81.65,322.90 82.31,322.90 82.97,322.90 83.63,322.90 84.29,322.90 84.95,322.90 85.61,322.90 86.27,322.90 86.93,322.90 87.59,322.90 88.25,322.90 88.91,322.90 89.57,322.90 90.23,322.90 90.89,322.90 91.55,322.90 92.21,322.90 92.87,322.90 93.53,322.90 94.19,322.90 94.85,322.90 95.51,322.90 96.17,322.90 96.83,322.90 97.49,322.90 98.15,322.90 98.81,322.90 99.47,322.90 100.13,322.90 100.79,322.90 101.45,322.90 102.11,322.90 102.77,322.90 103.43,322.90 104.09,322.90 104.75,322.90 105.41,322.90 106.07,322.90 106.73,322.90 107.39,322.90 108.05,322.90 108.72,322.90 109.38,322.90 110.04,322.90 110.70,322.90 111.36,322.90 112.02,322.90 112.68,322.90 113.34,322.90 114.00,322.90 114.66,322.90 115.32,322.90 115.98,322.90 116.64,322.90 117.30,322.90 117.96,322.90 118.62,322.90 119.28,322.90 119.94,322.90 120.60,322.90 121.26,322.90 121.92,322.90 122.58,322.90 123.24,322.90 123.90,322.90 124.56,322.90 125.22,322.90 125.88,322.90 126.54,322.90 127.20,322.90 127.86,322.90 128.52,322.90 129.18,322.90 129.84,322.90 130.50,322.90 131.16,322.90 131.82,322.90 132.48,322.90 133.14,322.90 133.80,322.90 134.46,322.90 135.12,322.90 135.78,322.90 136.44,322.90 137.10,322.90 137.76,322.90 138.42,322.90 139.08,322.90 139.74,322.90 140.40,322.90 141.06,322.90 141.73,322.90 142.39,322.90 143.05,322.90 143.71,322.90 144.37,322.90 145.03,322.90 145.69,322.90 146.35,322.90 147.01,322.90 147.67,322.90 148.33,322.90 148.99,322.90 149.65,322.90 150.31,322.90 150.97,322.90 151.63,322.90 152.29,322.90 152.95,322.90 153.61,322.90 154.27,322.89 154.93,322.89 155.59,322.89 156.25,322.89 156.91,322.89 157.57,322.88 158.23,322.88 158.89,322.88 159.55,322.87 160.21,322.87 160.87,322.87 161.53,322.86 162.19,322.86 162.85,322.86 163.51,322.85 164.17,322.85 164.83,322.84 165.49,322.84 166.15,322.83 166.81,322.83 167.47,322.82 168.13,322.82 168.79,322.81 169.45,322.81 170.11,322.80 170.77,322.79 171.43,322.79 172.09,322.78 172.75,322.78 173.41,322.77 174.07,322.76 174.74,322.76 175.40,322.75 176.06,322.74 176.72,322.74 177.38,322.73 178.04,322.72 178.70,322.71 179.36,322.71 180.02,322.70 180.68,322.69 181.34,322.68 182.00,322.68 182.66,322.67 183.32,322.66 183.98,322.65 184.64,322.63 185.30,322.62 185.96,322.61 186.62,322.60 187.28,322.58 187.94,322.57 188.60,322.55 189.26,322.54 189.92,322.52 190.58,322.51 191.24,322.49 191.90,322.47 192.56,322.45 193.22,322.43 193.88,322.41 194.54,322.39 195.20,322.37 195.86,322.35 196.52,322.33 197.18,322.30 197.84,322.28 198.50,322.26 199.16,322.23 199.82,322.21 200.48,322.18 201.14,322.15 201.80,322.12 202.46,322.09 203.12,322.05 203.78,322.01 204.44,321.97 205.10,321.93 205.76,321.88 206.42,321.84 207.08,321.79 207.75,321.74 208.41,321.68 209.07,321.63 209.73,321.57 210.39,321.51 211.05,321.45 211.71,321.38 212.37,321.32 213.03,321.25 213.69,321.18 214.35,321.11 215.01,321.03 215.67,320.96 216.33,320.88 216.99,320.80 217.65,320.72 218.31,320.64 218.97,320.56 219.63,320.47 220.29,320.39 220.95,320.30 221.61,320.19 222.27,320.08 222.93,319.97 223.59,319.84 224.25,319.71 224.91,319.57 225.57,319.42 226.23,319.27 226.89,319.12 227.55,318.96 228.21,318.79 228.87,318.62 229.53,318.45 230.19,318.27 230.85,318.09 231.51,317.91 232.17,317.73 232.83,317.54 233.49,317.36 234.15,317.17 234.81,316.98 235.47,316.80 236.13,316.61 236.79,316.43 237.45,316.25 238.11,316.06 238.77,315.87 239.43,315.68 240.09,315.49 240.76,315.29 241.42,315.09 242.08,314.89 242.74,314.69 243.40,314.48 244.06,314.27 244.72,314.06 245.38,313.85 246.04,313.63 246.70,313.41 247.36,313.18 248.02,312.95 248.68,312.72 249.34,312.49 250.00,312.25 250.66,312.01 251.32,311.77 251.98,311.52 252.64,311.27 253.30,311.02 253.96,310.76 254.62,310.47 255.28,310.17 255.94,309.85 256.60,309.53 257.26,309.20 257.92,308.89 258.58,308.58 259.24,308.30 259.90,308.04 260.56,307.80 261.22,307.56 261.88,307.33 262.54,307.10 263.20,306.88 263.86,306.66 264.52,306.45 265.18,306.26 265.84,306.08 266.50,305.90 267.16,305.75 267.82,305.61 268.48,305.49 269.14,305.37 269.80,305.26 270.46,305.15 271.12,305.05 271.78,304.96 272.44,304.87 273.10,304.80 273.77,304.73 274.43,304.67 275.09,304.62 275.75,304.59 276.41,304.56 277.07,304.53 277.73,304.51 278.39,304.50 279.05,304.52 279.71,304.58 280.37,304.67 281.03,304.79 281.69,304.93 282.35,305.07 283.01,305.22 283.67,305.41 284.33,305.63 284.99,305.88 285.65,306.15 286.31,306.43 286.97,306.73 287.63,307.03 288.29,307.34 288.95,307.67 289.61,308.04 290.27,308.42 290.93,308.82 291.59,309.23 292.25,309.63 292.91,310.02 293.57,310.38 294.23,310.74 294.89,311.09 295.55,311.44 296.21,311.78 296.87,312.12 297.53,312.45 298.19,312.78 298.85,313.10 299.51,313.41 300.17,313.72 300.83,314.02 301.49,314.32 302.15,314.60 302.81,314.88 303.47,315.16 304.13,315.44 304.79,315.73 305.45,316.01 306.11,316.31 306.78,316.61 307.44,316.92 308.10,317.24 308.76,317.55 309.42,317.86 310.08,318.16 310.74,318.45 311.40,318.72 312.06,318.99 312.72,319.25 313.38,319.51 314.04,319.77 314.70,320.01 315.36,320.25 316.02,320.47 316.68,320.68 317.34,320.88 318.00,321.05 318.66,321.22 319.32,321.39 319.98,321.56 320.64,321.72 321.30,321.86 321.96,322.00 322.62,322.13 323.28,322.23 323.94,322.32 324.60,322.39 325.26,322.45 325.92,322.50 326.58,322.55 327.24,322.59 327.90,322.64 328.56,322.68 329.22,322.72 329.88,322.76 330.54,322.79 331.20,322.82 331.86,322.84 332.52,322.86 333.18,322.88 333.84,322.89 334.50,322.90 335.16,322.90 335.82,322.90 336.48,322.90 337.14,322.90 337.80,322.90 338.46,322.90 339.12,322.90 339.79,322.90 340.45,322.90 341.11,322.90 341.77,322.90 342.43,322.90 343.09,322.90 343.75,322.90 344.41,322.90 345.07,322.90 345.73,322.90 346.39,322.90 347.05,322.90 347.71,322.90 348.37,322.90"/>
    <polyline id="c-s2" stroke="#00aa00" stroke-dasharray="14 5.9" stroke-dashoffset="18.43" points="348.37,322.90 349.03,322.90 349.69,322.90 350.35,322.90 351.01,322.90 351.67,322.90 352.33,322.90 352.99,322.90 353.65,322.90 354.31,322.90 354.97,322.90 355.63,322.90 356.29,322.90 356.95,322.90 357.61,322.90 358.27,322.90 358.93,322.90 359.59,322.90 360.25,322.90 360.91,322.90 361.57,322.90 362.23,322.90 362.89,322.90 363.55,322.90 364.21,322.90 364.87,322.90 365.53,322.90 366.19,322.90 366.85,322.90 367.51,322.90 368.17,322.90 368.83,322.90 369.49,322.90 370.15,322.90 370.81,322.90 371.47,322.90 372.13,322.90 372.80,322.90 373.46,322.90 374.12,322.90 374.78,322.90 375.44,322.90 376.10,322.90 376.76,322.90 377.42,322.90 378.08,322.90 378.74,322.90 379.40,322.90 380.06,322.90 380.72,322.90 381.38,322.90 382.04,322.90 382.70,322.90 383.36,322.90 384.02,322.90 384.68,322.90 385.34,322.90 386.00,322.90 386.66,322.90 387.32,322.90 387.98,322.90 388.64,322.90 389.30,322.90 389.96,322.90 390.62,322.90 391.28,322.90 391.94,322.90 392.60,322.90 393.26,322.90 393.92,322.90 394.58,322.90 395.24,322.90 395.90,322.90 396.56,322.90 397.22,322.90 397.88,322.90 398.54,322.90 399.20,322.90 399.86,322.90 400.52,322.90 401.18,322.90 401.84,322.90 402.50,322.90 403.16,322.90 403.82,322.90 404.48,322.90 405.14,322.90 405.81,322.90 406.47,322.90 407.13,322.90 407.79,322.90 408.45,322.90 409.11,322.90 409.77,322.90 410.43,322.90 411.09,322.90 411.75,322.90 412.41,322.90 413.07,322.90 413.73,322.90 414.39,322.90 415.05,322.90 415.71,322.90 416.37,322.90 417.03,322.90 417.69,322.90 418.35,322.90 419.01,322.90 419.67,322.90 420.33,322.90 420.99,322.90 421.65,322.90 422.31,322.90 422.97,322.90 423.63,322.90 424.29,322.90 424.95,322.90 425.61,322.90 426.27,322.90 426.93,322.90 427.59,322.90 428.25,322.90 428.91,322.90 429.57,322.90 430.23,322.90 430.89,322.90 431.55,322.90 432.21,322.90 432.87,322.90 433.53,322.90 434.19,322.90 434.85,322.90 435.51,322.90 436.17,322.90 436.83,322.90 437.49,322.90 438.15,322.90 438.82,322.90 439.48,322.90 440.14,322.90 440.80,322.90 441.46,322.90 442.12,322.90 442.78,322.90 443.44,322.90 444.10,322.90 444.76,322.90 445.42,322.90 446.08,322.90 446.74,322.90 447.40,322.90 448.06,322.90 448.72,322.90 449.38,322.90 450.04,322.90 450.70,322.90 451.36,322.90 452.02,322.90 452.68,322.90 453.34,322.90 454.00,322.90 454.66,322.90 455.32,322.90 455.98,322.90 456.64,322.90 457.30,322.90 457.96,322.90 458.62,322.90 459.28,322.90 459.94,322.90 460.60,322.90 461.26,322.90 461.92,322.90 462.58,322.90 463.24,322.90 463.90,322.90 464.56,322.90 465.22,322.90 465.88,322.90 466.54,322.90 467.20,322.90 467.86,322.90 468.52,322.90 469.18,322.90 469.84,322.90 470.50,322.90 471.16,322.90 471.83,322.90 472.49,322.90 473.15,322.90 473.81,322.90 474.47,322.90 475.13,322.90 475.79,322.90 476.45,322.90 477.11,322.90 477.77,322.90 478.43,322.90 479.09,322.90 479.75,322.90 480.41,322.90 481.07,322.90 481.73,322.90 482.39,322.90 483.05,322.90 483.71,322.90 484.37,322.90 485.03,322.90 485.69,322.90 486.35,322.90 487.01,322.90 487.67,322.90 488.33,322.90 488.99,322.90 489.65,322.90 490.31,322.90 490.97,322.90 491.63,322.90 492.29,322.90 492.95,322.90 493.61,322.90 494.27,322.90 494.93,322.90 495.59,322.90 496.25,322.90 496.91,322.90 497.57,322.90 498.23,322.90 498.89,322.90 499.55,322.90 500.21,322.90 500.87,322.90 501.53,322.90 502.19,322.90 502.85,322.90 503.51,322.90 504.17,322.90 504.84,322.90 505.50,322.90 506.16,322.90 506.82,322.90 507.48,322.90 508.14,322.90 508.80,322.90 509.46,322.90 510.12,322.90 510.78,322.90 511.44,322.90 512.10,322.90 512.76,322.90 513.42,322.90 514.08,322.90 514.74,322.90 515.40,322.90 516.06,322.90 516.72,322.90 517.38,322.90 518.04,322.90 518.70,322.90 519.36,322.90 520.02,322.90 520.68,322.90 521.34,322.90 522.00,322.90 522.66,322.90 523.32,322.90 523.98,322.90 524.64,322.90 525.30,322.90 525.96,322.90 526.62,322.90 527.28,322.90 527.94,322.90 528.60,322.90 529.26,322.90 529.92,322.90 530.58,322.90 531.24,322.90 531.90,322.90 532.56,322.90 533.22,322.90 533.88,322.90 534.54,322.90 535.20,322.90 535.86,322.90 536.52,322.90 537.18,322.90 537.85,322.90 538.51,322.90 539.17,322.90 539.83,322.90 540.49,322.90 541.15,322.90 541.81,322.90 542.47,322.90 543.13,322.90 543.79,322.90 544.45,322.90 545.11,322.90 545.77,322.90 546.43,322.90 547.09,322.90 547.75,322.90 548.41,322.90 549.07,322.90 549.73,322.90 550.39,322.90 551.05,322.90 551.71,322.90 552.37,322.90 553.03,322.90 553.69,322.90 554.35,322.90 555.01,322.90 555.67,322.90 556.33,322.90 556.99,322.90 557.65,322.90 558.31,322.90 558.97,322.90 559.63,322.90 560.29,322.90 560.95,322.90 561.61,322.90 562.27,322.90 562.93,322.90 563.59,322.90 564.25,322.90 564.91,322.90 565.57,322.90 566.23,322.90 566.89,322.90 567.55,322.90 568.21,322.90 568.87,322.90 569.53,322.90 570.19,322.90 570.86,322.90 571.52,322.90 572.18,322.90 572.84,322.90 573.50,322.90 574.16,322.90 574.82,322.90 575.48,322.90 576.14,322.90 576.80,322.90 577.46,322.90 578.12,322.90 578.78,322.90 579.44,322.90 580.10,322.90 580.76,322.90 581.42,322.90 582.08,322.90 582.74,322.90 583.40,322.90 584.06,322.90 584.72,322.90 585.38,322.90 586.04,322.90 586.70,322.90"/>
  </g>

  <!-- frame -->
  <rect x="50.7" y="2.95" width="544.7" height="336.6" fill="none" stroke="#000" stroke-width="2.9"/>

  <!-- ticks -->
  <g stroke="#000" stroke-width="2.8" fill="none">
    <!-- y ticks -->
    <path d="M51 19.8h6 M51 80.4h6 M51 141h6 M51 201.7h6 M51 262.3h6 M51 322.9h6"/>
    <!-- x ticks -->
    <path d="M99.0 339.5v-6.6 M173.7 339.5v-6.6 M248.4 339.5v-6.6 M323.2 339.5v-6.6 M397.9 339.5v-6.6 M472.6 339.5v-6.6 M547.3 339.5v-6.6"/>
  </g>

  <!-- y tick labels -->
  <g class="serif txt" font-size="37.6" text-anchor="end" fill="#000">
    <text transform="translate(42.9,33.6) scale(0.925,1)">1.</text>
    <text transform="translate(42.9,94.4) scale(0.925,1)">0.8</text>
    <text transform="translate(42.9,155.0) scale(0.925,1)">0.6</text>
    <text transform="translate(42.9,215.5) scale(0.925,1)">0.4</text>
    <text transform="translate(42.9,276.0) scale(0.925,1)">0.2</text>
    <text transform="translate(42.9,336.6) scale(0.925,1)">0.</text>
  </g>

  <!-- x tick labels -->
  <g class="serif txt" font-size="37.6" fill="#000">
    <text transform="translate(68.1,380.6) scale(0.905,1)">10</text>
    <text transform="translate(100.8,370) scale(1.068,1)" font-size="26.7">−</text>
    <text transform="translate(117.4,368.7) scale(0.905,1)" font-size="26.7">2</text>
    <text transform="translate(164.6,380.6) scale(0.905,1)">1</text>
    <text transform="translate(225.4,380.6) scale(0.905,1)">10<tspan font-size="26.7" dy="-11.9">2</tspan></text>
    <text transform="translate(299.6,380.6) scale(0.905,1)">10<tspan font-size="26.7" dy="-11.9">4</tspan></text>
    <text transform="translate(374.6,380.6) scale(0.905,1)">10<tspan font-size="26.7" dy="-11.9">6</tspan></text>
    <text transform="translate(449.0,380.6) scale(0.905,1)">10<tspan font-size="26.7" dy="-11.9">8</tspan></text>
    <text transform="translate(517.8,380.6) scale(0.905,1)">10<tspan font-size="26.7" dy="-11.9">10</tspan></text>
  </g>

  <!-- axis label -->
  <g class="serif txt" font-size="37.6" fill="#000">
    <text transform="translate(306.5,436) scale(0.905,0.86)" font-style="italic">ω</text>
    <text transform="translate(329.6,436) scale(0.94,0.925)">t</text>
  </g>

  <!-- panel label -->
  <g class="serif txt" font-size="37.6" fill="#000">
    <text transform="translate(71.3,64.2) scale(0.93,0.86)">a</text>
    <text transform="translate(86.3,62.9) scale(0.9,0.86)">)</text>
  </g>

  <!-- legend -->
  <g fill="none" stroke-width="4.4">
    <path d="M69.6 102.35H84.1 M89.3 102.35H103.8" stroke="#000"/>
    <path d="M69.7 147.05H76 M82.1 147.05H95.9 M102.1 147.05H106.9" stroke="#5555ff"/>
    <path d="M69.7 192.05H107.1" stroke="#ff8000"/>
    <path d="M69.7 236.95H84.1 M89.3 236.95H103.8" stroke="#00aa00"/>
  </g>
  <g class="sans txt" font-size="28.3" fill="#000">
    <text x="114.2" y="114.2"><tspan font-style="italic">p</tspan><tspan font-size="22.3" dy="4.8">ee</tspan></text>
    <text x="114.2" y="159.0"><tspan font-style="italic">p</tspan><tspan font-size="22.3" dy="4.8">gg</tspan></text>
    <text x="114.2" y="204.2"><tspan font-style="italic">p</tspan><tspan font-size="22.3" dy="4.8">as</tspan></text>
    <text x="114.2" y="247.7"><tspan font-style="italic">p</tspan><tspan font-size="22.3" dy="4.8" font-style="italic">s</tspan></text>
  </g>
</svg>
</body>
</html>
